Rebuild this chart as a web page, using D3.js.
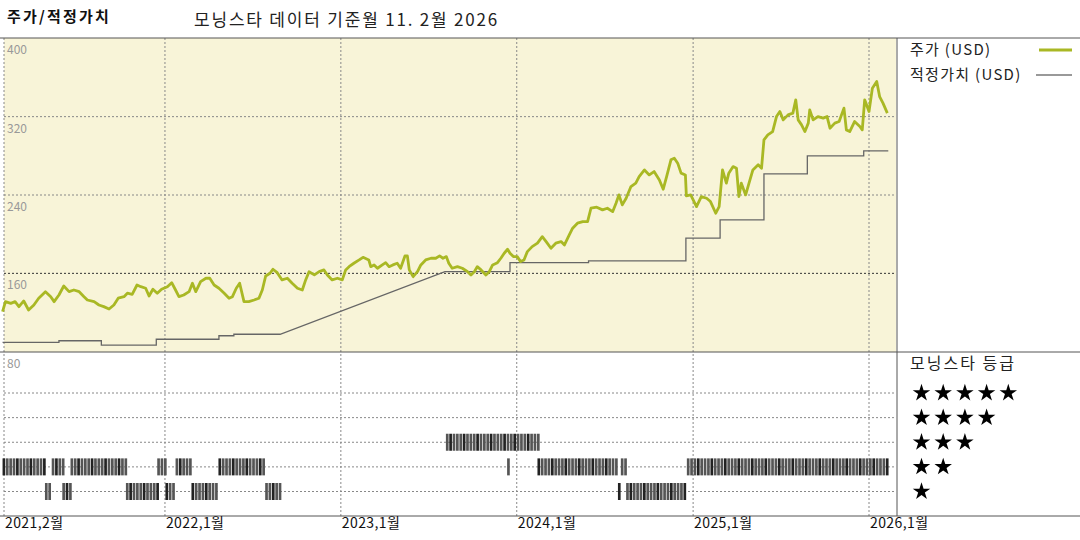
<!DOCTYPE html>
<html>
<head>
<meta charset="utf-8">
<script src="https://cdn.jsdelivr.net/npm/d3@7"></script>
<style>
    body { margin: 0; background: #fff; }
    svg { display: block; font-family: "Noto Sans CJK KR", "Noto Sans", sans-serif; }
</style>
</head>
<body>
<div id="chart"></div>
<script>
// price (USD), dates as decimal years
const priceYears = [
    2021.078, 2021.094, 2021.122, 2021.147, 2021.170, 2021.198, 2021.226, 2021.255, 2021.283, 2021.321,
    2021.350, 2021.369, 2021.397, 2021.425, 2021.454, 2021.482, 2021.511, 2021.539, 2021.558, 2021.596,
    2021.625, 2021.653, 2021.681, 2021.710, 2021.734, 2021.767, 2021.786, 2021.814, 2021.842, 2021.862,
    2021.890, 2021.909, 2021.932, 2021.956, 2021.981, 2022.013, 2022.038, 2022.061, 2022.080, 2022.108,
    2022.137, 2022.155, 2022.175, 2022.203, 2022.232, 2022.254, 2022.279, 2022.307, 2022.336, 2022.364,
    2022.383, 2022.406, 2022.425, 2022.449, 2022.478, 2022.506, 2022.535, 2022.553, 2022.573, 2022.596,
    2022.614, 2022.639, 2022.667, 2022.696, 2022.724, 2022.753, 2022.781, 2022.800, 2022.819, 2022.848,
    2022.876, 2022.904, 2022.923, 2022.952, 2022.980, 2023.009, 2023.028, 2023.047, 2023.075, 2023.104,
    2023.126, 2023.160, 2023.170, 2023.189, 2023.208, 2023.236, 2023.255, 2023.274, 2023.297, 2023.321,
    2023.341, 2023.365, 2023.378, 2023.388, 2023.411, 2023.435, 2023.455, 2023.483, 2023.511, 2023.540,
    2023.563, 2023.581, 2023.600, 2023.615, 2023.634, 2023.663, 2023.691, 2023.720, 2023.739, 2023.758,
    2023.776, 2023.796, 2023.824, 2023.843, 2023.862, 2023.890, 2023.910, 2023.928, 2023.947, 2023.962,
    2023.980, 2024.004, 2024.023, 2024.042, 2024.061, 2024.089, 2024.118, 2024.146, 2024.166, 2024.194,
    2024.222, 2024.251, 2024.270, 2024.298, 2024.317, 2024.345, 2024.374, 2024.402, 2024.421, 2024.454,
    2024.487, 2024.516, 2024.544, 2024.564, 2024.582, 2024.601, 2024.621, 2024.649, 2024.677, 2024.696,
    2024.725, 2024.753, 2024.782, 2024.810, 2024.833, 2024.852, 2024.877, 2024.895, 2024.914, 2024.933,
    2024.958, 2024.965, 2024.990, 2025.019, 2025.047, 2025.076, 2025.098, 2025.129, 2025.147, 2025.167,
    2025.189, 2025.204, 2025.227, 2025.246, 2025.259, 2025.275, 2025.299, 2025.318, 2025.341, 2025.369,
    2025.388, 2025.402, 2025.426, 2025.451, 2025.474, 2025.493, 2025.511, 2025.540, 2025.568, 2025.584,
    2025.597, 2025.616, 2025.635, 2025.654, 2025.663, 2025.682, 2025.710, 2025.739, 2025.762, 2025.777,
    2025.805, 2025.830, 2025.857, 2025.872, 2025.891, 2025.919, 2025.948, 2025.963, 2025.976, 2026.001,
    2026.020, 2026.043, 2026.061, 2026.080, 2026.105
];
const priceValues = [
    120.9, 131.1, 129.4, 131.1, 126.0, 131.8, 122.6, 127.7, 134.6, 141.3,
    136.2, 131.1, 137.9, 147.1, 141.3, 143.0, 141.3, 136.2, 132.8, 131.1,
    127.7, 126.0, 123.6, 127.7, 134.6, 136.2, 139.7, 138.6, 148.1, 146.4,
    144.8, 136.9, 143.8, 139.7, 143.8, 146.4, 150.5, 143.0, 136.2, 137.9,
    141.3, 149.9, 141.3, 151.5, 155.0, 155.0, 148.1, 144.8, 139.7, 134.6,
    136.2, 144.8, 149.9, 131.1, 131.1, 132.8, 134.6, 143.0, 157.3, 160.1,
    164.2, 160.7, 153.3, 155.0, 149.9, 144.8, 143.0, 153.3, 161.7, 158.4,
    161.7, 163.5, 158.4, 153.3, 155.0, 153.3, 163.5, 166.8, 170.3, 173.7,
    176.4, 173.7, 166.8, 168.6, 165.2, 168.6, 170.9, 166.8, 168.6, 170.3,
    165.2, 177.8, 177.8, 163.5, 156.6, 161.7, 168.6, 173.7, 175.4, 175.4,
    177.8, 175.4, 177.1, 170.3, 165.2, 166.8, 165.2, 161.7, 158.4, 161.7,
    166.8, 163.5, 158.4, 161.7, 168.6, 170.9, 175.4, 180.5, 184.6, 180.5,
    177.1, 177.1, 172.0, 173.7, 182.2, 187.3, 190.8, 197.5, 192.4, 185.6,
    190.8, 192.4, 189.0, 199.2, 206.1, 211.2, 212.8, 212.8, 226.5, 227.5,
    224.8, 226.5, 223.0, 231.6, 240.1, 229.9, 236.7, 248.6, 252.1, 258.8,
    265.6, 260.5, 263.9, 255.4, 245.9, 258.8, 275.9, 277.6, 272.5, 262.3,
    260.5, 239.1, 240.1, 228.1, 238.4, 236.7, 233.3, 221.4, 228.1, 265.6,
    252.1, 262.3, 269.0, 267.4, 238.4, 252.1, 240.1, 252.1, 265.6, 270.8,
    267.4, 296.3, 301.4, 304.8, 320.1, 325.2, 316.7, 321.8, 323.6, 337.2,
    316.7, 311.6, 304.8, 313.4, 326.9, 316.7, 320.1, 318.5, 320.1, 308.2,
    313.4, 315.0, 328.7, 306.5, 304.8, 315.0, 309.9, 306.5, 337.2, 325.2,
    349.1, 355.9, 340.5, 333.8, 323.6
];

// fair value (USD) vertices
const fairYears = [
    2021.078, 2021.397, 2021.397, 2021.638, 2021.638, 2021.951, 2021.951, 2022.307, 2022.307, 2022.392,
    2022.392, 2022.654, 2023.593, 2023.962, 2023.962, 2024.409, 2024.409, 2024.962, 2024.962, 2025.153,
    2025.153, 2025.404, 2025.404, 2025.649, 2025.649, 2025.970, 2025.970, 2026.109
];
const fairValues = [
    89.6, 89.6, 91.2, 91.2, 86.8, 86.8, 92.7, 92.7, 96.3, 96.3,
    97.8, 97.8, 161.7, 161.7, 170.9, 170.9, 172.7, 172.7, 195.9, 195.9,
    214.6, 214.6, 261.6, 261.6, 280.0, 280.0, 285.0, 285.0
];

// morningstar rating periods
const ratingStart = [
    2021.078, 2021.317, 2021.356, 2021.416, 2021.462, 2021.778, 2021.957, 2022.004, 2022.060, 2022.152,
    2022.303, 2022.569, 2023.597, 2023.944, 2023.962, 2024.118, 2024.575, 2024.592, 2024.621, 2024.966
];
const ratingEnd = [
    2021.317, 2021.356, 2021.416, 2021.462, 2021.778, 2021.957, 2022.004, 2022.060, 2022.152, 2022.303,
    2022.569, 2022.658, 2023.944, 2023.962, 2024.118, 2024.575, 2024.592, 2024.621, 2024.966, 2026.114
];
const ratingStars = [2, 1, 2, 1, 2, 1, 2, 1, 2, 1, 2, 1, 3, 2, 3, 2, 1, 2, 1, 2];

const yTicks = [400, 320, 240, 160, 80];
const xTickDates = ["2021-02-01", "2022-01-01", "2023-01-01", "2024-01-01", "2025-01-01", "2026-01-01"];
const xTickLabels = ["2021,2월", "2022,1월", "2023,1월", "2024,1월", "2025,1월", "2026,1월"];

const priceColor = "#a9b824";
const fairColor = "#666";

function toDate(t) {
    let yr = Math.floor(t);
    return new Date(yr, 0, 1 + Math.round((t - yr) * 365));
}

let width = 1080, height = 540;
let plotLeft = 4, plotRight = 896, plotTop = 38, plotMid = 352, plotBottom = 516;

let svg = d3.select("#chart").append("svg")
    .attr("width", width)
    .attr("height", height);

let x = d3.scaleTime()
    .domain([new Date(2021, 1, 1), new Date(2026, 1, 26)])
    .range([plotLeft, plotRight]);

let y = d3.scaleLinear()
    .domain([80, 400])
    .range([351.7, 38.3]);

let yr = d3.scaleLinear()
    .domain([1, 5])
    .range([491.5, 393]);

// titles
svg.append("text")
    .attr("x", 7).attr("y", 22)
    .attr("font-size", 15).attr("font-weight", "bold")
    .attr("letter-spacing", 2.2)
    .attr("fill", "#111")
    .text("주가/적정가치");

svg.append("text")
    .attr("x", 194).attr("y", 26)
    .attr("font-size", 17)
    .attr("letter-spacing", 1.8)
    .attr("fill", "#222")
    .text("모닝스타 데이터 기준월 11. 2월 2026");

// plot background
svg.append("rect")
    .attr("x", plotLeft).attr("y", plotTop)
    .attr("width", plotRight - plotLeft).attr("height", plotMid - plotTop)
    .attr("fill", "#f8f4d8");

// grid
let grid = svg.append("g")
    .attr("fill", "none")
    .attr("stroke-dasharray", "2,2");

grid.selectAll(".vgrid")
    .data(xTickDates.slice(1))
    .enter()
    .append("line")
    .attr("x1", d => x(new Date(d + "T00:00"))).attr("x2", d => x(new Date(d + "T00:00")))
    .attr("y1", plotTop).attr("y2", plotBottom)
    .attr("stroke", "#888");

grid.append("line")
    .attr("x1", plotLeft).attr("x2", plotLeft)
    .attr("y1", plotTop).attr("y2", plotBottom)
    .attr("stroke", "#888");

grid.selectAll(".hgrid")
    .data([320, 240, 160])
    .enter()
    .append("line")
    .attr("x1", plotLeft).attr("x2", plotRight)
    .attr("y1", d => y(d)).attr("y2", d => y(d))
    .attr("stroke", d => d === 160 ? "#333" : "#888");

grid.selectAll(".rgrid")
    .data([1, 2, 3, 4, 5])
    .enter()
    .append("line")
    .attr("x1", plotLeft).attr("x2", plotRight)
    .attr("y1", d => yr(d)).attr("y2", d => yr(d))
    .attr("stroke", "#888");

// y labels
svg.selectAll(".ylab")
    .data(yTicks)
    .enter()
    .append("text")
    .attr("x", 7)
    .attr("y", d => y(d) + 16)
    .attr("font-size", 12)
    .attr("fill", "#999")
    .text(d => d);

// rating bars, one per week
let weekBars = [];
ratingStart.forEach((s, i) => {
    let end = toDate(ratingEnd[i]);
    for (let d = toDate(s); d < end; d = d3.timeDay.offset(d, 7)) {
        weekBars.push({date: d, stars: ratingStars[i]});
    }
});

let weekPx = x(new Date(2024, 0, 8)) - x(new Date(2024, 0, 1));

svg.append("g")
    .selectAll("rect")
    .data(weekBars)
    .enter()
    .append("rect")
    .attr("x", d => x(d.date))
    .attr("y", d => yr(d.stars) - 8.5)
    .attr("width", weekPx - 0.7)
    .attr("height", 17)
    .attr("fill", (d, i) => i % 4 === 0 ? "#222" : "#555");

// fair value line
let fairData = fairYears.map((t, i) => ({date: toDate(t), value: fairValues[i]}));
svg.append("path")
    .datum(fairData)
    .attr("fill", "none")
    .attr("stroke", fairColor)
    .attr("stroke-width", 1.3)
    .attr("d", d3.line().x(d => x(d.date)).y(d => y(d.value)));

// price line
let priceData = priceYears.map((t, i) => ({date: toDate(t), value: priceValues[i]}));
svg.append("path")
    .datum(priceData)
    .attr("fill", "none")
    .attr("stroke", priceColor)
    .attr("stroke-width", 2.8)
    .attr("stroke-linejoin", "round")
    .attr("d", d3.line().x(d => x(d.date)).y(d => y(d.value)));

// frame lines
let frame = svg.append("g").attr("stroke", "#555").attr("stroke-width", 1);
frame.append("line").attr("x1", 0).attr("x2", width).attr("y1", plotTop).attr("y2", plotTop);
frame.append("line").attr("x1", 0).attr("x2", width).attr("y1", plotMid).attr("y2", plotMid);
frame.append("line").attr("x1", 0).attr("x2", width).attr("y1", plotBottom).attr("y2", plotBottom);
frame.append("line").attr("x1", 897).attr("x2", 897).attr("y1", plotTop).attr("y2", plotBottom);

// x labels
svg.selectAll(".xlab")
    .data(xTickDates)
    .enter()
    .append("text")
    .attr("x", (d, i) => x(new Date(d + "T00:00")) + 1)
    .attr("y", 528)
    .attr("font-size", 14)
    .attr("letter-spacing", 0.4)
    .attr("fill", "#111")
    .text((d, i) => xTickLabels[i]);

// legend
let legend = svg.append("g").attr("font-size", 15).attr("letter-spacing", 1.3).attr("fill", "#222");
legend.append("text").attr("x", 910).attr("y", 55).text("주가 (USD)");
legend.append("line")
    .attr("x1", 1039).attr("x2", 1072).attr("y1", 50).attr("y2", 50)
    .attr("stroke", priceColor).attr("stroke-width", 3);
legend.append("text").attr("x", 910).attr("y", 80).text("적정가치 (USD)");
legend.append("line")
    .attr("x1", 1036).attr("x2", 1072).attr("y1", 75).attr("y2", 75)
    .attr("stroke", "#777").attr("stroke-width", 1.3);

legend.append("text")
    .attr("x", 910).attr("y", 369)
    .attr("font-size", 16)
    .attr("letter-spacing", 2)
    .text("모닝스타 등급");

let starRows = [];
[5, 4, 3, 2, 1].forEach(n => {
    for (let k = 0; k < n; k++) starRows.push({n: n, k: k});
});

svg.append("g")
    .selectAll("path")
    .data(starRows)
    .enter()
    .append("path")
    .attr("transform", d => `translate(${921.5 + d.k * 21.7},${yr(d.n)})`)
    .attr("d", d3.symbol(d3.symbolStar, 95))
    .attr("fill", "#000");
</script>
</body>
</html>
